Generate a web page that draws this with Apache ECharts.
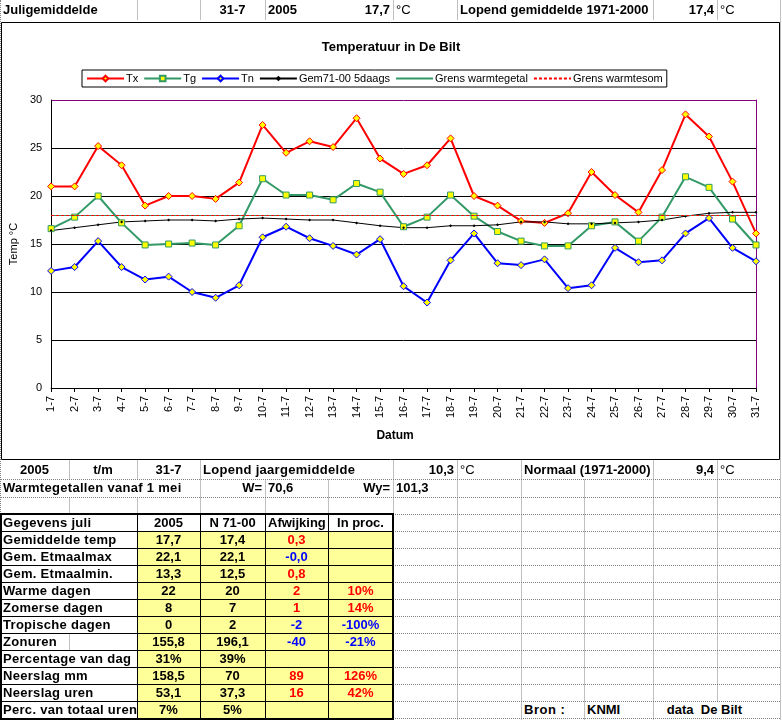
<!doctype html>
<html>
<head>
<meta charset="utf-8">
<title>Temperatuur in De Bilt</title>
<script src="https://cdn.jsdelivr.net/npm/echarts/dist/echarts.min.js"></script>
<style>
body { margin: 0; background: #fff; }
#page { position: relative; width: 782px; height: 720px; overflow: hidden; background: #fff;
        font-family: 'Liberation Sans', Arial, sans-serif; font-size: 13px; }
#main { position: absolute; left: 0; top: 21px; width: 782px; height: 440px; }
</style>
</head>
<body>
<div id="page">
  <div id="main"></div>
</div>
<script>
// chart data, juli 2005
var days = ['1-7','2-7','3-7','4-7','5-7','6-7','7-7','8-7','9-7','10-7','11-7','12-7','13-7','14-7','15-7','16-7',
            '17-7','18-7','19-7','20-7','21-7','22-7','23-7','24-7','25-7','26-7','27-7','28-7','29-7','30-7','31-7'];
var tx = [21.0, 21.0, 25.2, 23.2, 19.0, 20.0, 20.0, 19.7, 21.4, 27.4, 24.5, 25.7, 25.1, 28.1, 23.9, 22.3,
          23.2, 26.0, 20.0, 19.0, 17.4, 17.2, 18.2, 22.5, 20.1, 18.3, 22.7, 28.5, 26.2, 21.5, 16.1];
var tg = [16.6, 17.8, 20.0, 17.2, 14.9, 15.0, 15.1, 14.9, 16.9, 21.8, 20.1, 20.1, 19.6, 21.3, 20.4, 16.8,
          17.8, 20.1, 17.9, 16.3, 15.3, 14.8, 14.8, 16.9, 17.3, 15.3, 17.8, 22.0, 20.9, 17.6, 14.9];
var tn = [12.2, 12.6, 15.3, 12.6, 11.3, 11.6, 10.0, 9.4, 10.7, 15.7, 16.8, 15.6, 14.8, 13.9, 15.5, 10.6,
          8.9, 13.3, 16.1, 13.0, 12.8, 13.4, 10.4, 10.7, 14.6, 13.1, 13.3, 16.1, 17.7, 14.6, 13.2];
var gem = [16.4, 16.7, 17.0, 17.3, 17.4, 17.5, 17.5, 17.4, 17.6, 17.7, 17.6, 17.5, 17.5, 17.2, 16.9, 16.7,
           16.7, 16.9, 16.9, 17.0, 17.3, 17.3, 17.1, 17.1, 17.2, 17.3, 17.5, 17.9, 18.2, 18.3, 18.3];
var grensWarmtegetal = 18;
var grensWarmtesom = 18;

// spreadsheet values
var datum = '31-7', jaar = '2005';
var juliGem = '17,7', juliNormaal = '17,4';
var jaarGem = '10,3', jaarNormaal = '9,4';
var wGetal = '70,6', wyGetal = '101,3';
var tableHeader = ['Gegevens juli', '2005', 'N 71-00', 'Afwijking', 'In proc.'];
var tableLabels = ['Gemiddelde temp', 'Gem. Etmaalmax', 'Gem. Etmaalmin.', 'Warme dagen', 'Zomerse dagen',
                   'Tropische dagen', 'Zonuren', 'Percentage van dag', 'Neerslag mm', 'Neerslag uren',
                   'Perc. van totaal uren'];
var val2005 = ['17,7', '22,1', '13,3', '22', '8', '0', '155,8', '31%', '158,5', '53,1', '7%'];
var valNormal = ['17,4', '22,1', '12,5', '20', '7', '2', '196,1', '39%', '70', '37,3', '5%'];
var afwijking = ['0,3', '-0,0', '0,8', '2', '1', '-2', '-40', '', '89', '16', ''];
var inProc = ['', '', '', '10%', '14%', '-100%', '-21%', '', '126%', '42%', ''];

// ---------- sheet cells ----------
var page = document.getElementById('page');
var cols = [0, 69, 137, 200, 265, 328, 393, 457, 521, 584, 653, 717, 780];

function box(x0, y0, w, h, css) {
    var d = document.createElement('div');
    d.style.cssText = 'position:absolute;box-sizing:border-box;left:' + x0 + 'px;top:' + y0 + 'px;width:' + w + 'px;height:' + h + 'px;' + (css || '');
    page.appendChild(d);
    return d;
}
function fill(x0, x1, y0, y1, c) { box(x0, y0, x1 - x0, y1 - y0, 'background:' + c); }
function hline(x0, x1, y, css) { box(x0, y, x1 - x0, 1, 'border-top:' + css); }
function vline(x, y0, y1, css) { box(x, y0, 1, y1 - y0, 'border-left:' + css); }
function put(x0, x1, y0, y1, text, o) {
    o = o || {};
    var d = box(x0, y0, x1 - x0, y1 - y0,
        'line-height:' + (y1 - y0) + 'px;white-space:pre;padding:0 3px;' +
        'text-align:' + (o.align || 'left') + ';font-weight:' + (o.bold === false ? 'normal' : 'bold') +
        ';color:' + (o.color || '#000') + ';' + (o.spacing ? 'letter-spacing:' + o.spacing + 'px;' : ''));
    d.textContent = text;
}

var grey = '1px solid #c0c0c0';
var dots = '1px dotted #808080';
var rowA = [460, 479], rowB = [479, 497], rowC = [497, 514];
var tTop = 514, rh = 17, tBot = tTop + rh * 12;

// yellow data cells
fill(137, 393, tTop + rh, tBot, '#ffff99');

// grey sheet grid
vline(0, 0, 720, dots);
vline(780, 0, 720, grey);
[137, 200, 265, 393, 457, 653, 717].forEach(function (x) { vline(x, 0, 20, grey); });
[69, 137, 200, 393, 457, 521, 653, 717].forEach(function (x) { vline(x, rowA[0], rowA[1], grey); });
[200, 265, 328, 393, 457, 521, 584, 653, 717].forEach(function (x) { vline(x, rowB[0], rowB[1], grey); });
[69, 137, 200, 265, 328, 393, 457, 521, 584, 653, 717].forEach(function (x) { vline(x, rowC[0], rowC[1], grey); });
[457, 521, 584, 653, 717].forEach(function (x) { vline(x, tTop, tBot - rh, grey); });
[457, 521, 584, 653].forEach(function (x) { vline(x, tBot - rh, 720, grey); });
vline(69, tTop + rh * 7, tTop + rh * 8, grey);
hline(0, 780, rowA[1], dots);
hline(0, 780, rowB[1], dots);
for (var k = 0; k <= 12; k++) hline(393, 780, tTop + rh * k, dots);

// table lines
for (var k = 1; k < 12; k++) hline(0, 393, tTop + rh * k, '1px solid #000');
[137, 200, 265, 328].forEach(function (x) { vline(x, tTop, tBot, '1px solid #000'); });
box(0, tTop - 1, 394, tBot - tTop + 3, 'border:2px solid #000');

// top row
put(0, 137, 0, 20, 'Juligemiddelde');
put(200, 265, 0, 20, datum, { align: 'center' });
put(265, 328, 0, 20, jaar);
put(328, 393, 0, 20, juliGem, { align: 'right' });
put(393, 457, 0, 20, '°C', { bold: false });
put(457, 653, 0, 20, 'Lopend gemiddelde 1971-2000');
put(653, 717, 0, 20, juliNormaal, { align: 'right' });
put(717, 780, 0, 20, '°C', { bold: false });

// rows under the chart
put(0, 69, rowA[0], rowA[1], jaar, { align: 'center' });
put(69, 137, rowA[0], rowA[1], 't/m', { align: 'center' });
put(137, 200, rowA[0], rowA[1], datum, { align: 'center' });
put(200, 393, rowA[0], rowA[1], 'Lopend jaargemiddelde', { spacing: 0.3 });
put(393, 457, rowA[0], rowA[1], jaarGem, { align: 'right' });
put(457, 521, rowA[0], rowA[1], '°C', { bold: false });
put(521, 653, rowA[0], rowA[1], 'Normaal (1971-2000)');
put(653, 717, rowA[0], rowA[1], jaarNormaal, { align: 'right' });
put(717, 780, rowA[0], rowA[1], '°C', { bold: false });
put(0, 200, rowB[0], rowB[1], 'Warmtegetallen vanaf 1 mei', { spacing: 0.3 });
put(200, 265, rowB[0], rowB[1], 'W=', { align: 'right' });
put(265, 328, rowB[0], rowB[1], wGetal);
put(328, 393, rowB[0], rowB[1], 'Wy=', { align: 'right' });
put(393, 457, rowB[0], rowB[1], wyGetal);

// table
put(0, 137, tTop, tTop + rh, tableHeader[0], { spacing: 0.3 });
for (var c = 1; c < 5; c++) put(cols[c + 1], cols[c + 2], tTop, tTop + rh, tableHeader[c], { align: 'center' });
function devColor(s) { return s.charAt(0) === '-' ? '#0000ff' : '#ff0000'; }
tableLabels.forEach(function (lab, i) {
    var y0 = tTop + rh * (i + 1), y1 = y0 + rh;
    put(0, 137, y0, y1, lab, { spacing: 0.3 });
    put(137, 200, y0, y1, val2005[i], { align: 'center' });
    put(200, 265, y0, y1, valNormal[i], { align: 'center' });
    put(265, 328, y0, y1, afwijking[i], { align: 'center', color: devColor(afwijking[i]) });
    put(328, 393, y0, y1, inProc[i], { align: 'center', color: devColor(inProc[i]) });
});
put(521, 584, tBot - rh, tBot, 'Bron :', { spacing: 0.5 });
put(584, 653, tBot - rh, tBot, 'KNMI');
put(653, 780, tBot - rh, tBot, '   data  De Bilt');

// ---------- chart ----------
var myChart = echarts.init(document.getElementById('main'));
var black = '#000';
var purple = '#800080';
var noMarker = { opacity: 0 };
var option = {
    animation: false,
    textStyle: { fontFamily: 'Liberation Sans, Arial, sans-serif' },
    title: {
        text: 'Temperatuur in De Bilt',
        left: 'center',
        top: 20,
        padding: 0,
        textStyle: { fontSize: 13, fontWeight: 'bold', color: black }
    },
    legend: {
        left: 82,
        top: 49,
        borderColor: black,
        borderWidth: 1,
        padding: [3, 4],
        itemGap: 5,
        itemWidth: 37,
        itemHeight: 7,
        textStyle: { fontSize: 11, color: black, padding: [0, 0, 0, -3] },
        data: [
            { name: 'Tx' }, { name: 'Tg' }, { name: 'Tn' }, { name: 'Gem71-00 5daags' },
            { name: 'Grens warmtegetal', itemStyle: noMarker },
            { name: 'Grens warmtesom', itemStyle: noMarker }
        ]
    },
    grid: { left: 48, top: 79, width: 708, height: 288 },
    xAxis: {
        type: 'category',
        data: days,
        boundaryGap: false,
        axisLine: { lineStyle: { color: black } },
        axisTick: { show: true, length: 4, interval: 0, lineStyle: { color: black } },
        axisLabel: { interval: 0, rotate: 90, fontSize: 11, color: black, margin: 8 },
        name: 'Datum',
        nameLocation: 'middle',
        nameGap: 42,
        nameTextStyle: { fontSize: 12, fontWeight: 'bold', color: black, padding: [0, 17, 0, 0] }
    },
    yAxis: [{
        type: 'value',
        position: 'left',
        min: 0,
        max: 30,
        interval: 5,
        axisLine: { show: true, lineStyle: { color: '#000000', width: 1 } },
        axisTick: { show: false },
        axisLabel: { fontSize: 11, color: black, margin: 9 },
        splitLine: { lineStyle: { color: [black, black, black, black, black, black, purple] } },
        name: 'Temp °C',
        nameLocation: 'middle',
        nameGap: 29,
        nameTextStyle: { fontSize: 11, color: black }
    }, {
        // right-hand frame of the plot area
        type: 'value',
        position: 'right',
        min: 0,
        max: 30,
        interval: 5,
        axisLine: { show: true, lineStyle: { color: purple } },
        axisTick: { show: false },
        axisLabel: { show: false },
        splitLine: { show: false }
    }],
    graphic: [{
        type: 'rect',
        silent: true,
        shape: { x: 1.5, y: 1.5, width: 778, height: 437 },
        style: { fill: 'none', stroke: black, lineWidth: 1 }
    }],
    series: [{
        name: 'Tx', type: 'line', data: tx,
        symbol: 'diamond', symbolSize: 7,
        lineStyle: { color: '#ff0000', width: 2 },
        itemStyle: { color: '#ffff00', borderColor: '#ff0000', borderWidth: 1 }
    }, {
        name: 'Tg', type: 'line', data: tg,
        symbol: 'rect', symbolSize: 6,
        lineStyle: { color: '#339966', width: 2 },
        itemStyle: { color: '#ffff00', borderColor: '#339966', borderWidth: 1 }
    }, {
        name: 'Tn', type: 'line', data: tn,
        symbol: 'diamond', symbolSize: 7,
        lineStyle: { color: '#0000ff', width: 2 },
        itemStyle: { color: '#ffff00', borderColor: '#0000ff', borderWidth: 1 }
    }, {
        name: 'Gem71-00 5daags', type: 'line', data: gem,
        symbol: 'diamond', symbolSize: 3,
        lineStyle: { color: black, width: 1 },
        itemStyle: { color: black }
    }, {
        name: 'Grens warmtegetal', type: 'line', data: [],
        symbol: 'none',
        lineStyle: { color: '#339966', width: 1 },
        itemStyle: { color: '#339966' },
        markLine: {
            silent: true, symbol: ['none', 'none'], label: { show: false },
            lineStyle: { color: '#339966', width: 1, type: 'solid' },
            data: [{ yAxis: grensWarmtegetal }]
        }
    }, {
        name: 'Grens warmtesom', type: 'line', data: [],
        symbol: 'none',
        lineStyle: { color: '#ff0000', width: 1, type: [3, 2] },
        itemStyle: { color: '#ff0000' },
        markLine: {
            silent: true, symbol: ['none', 'none'], label: { show: false },
            lineStyle: { color: '#ff0000', width: 1, type: [3, 2] },
            data: [{ yAxis: grensWarmtesom }]
        }
    }]
};
myChart.setOption(option);
</script>
</body>
</html>
